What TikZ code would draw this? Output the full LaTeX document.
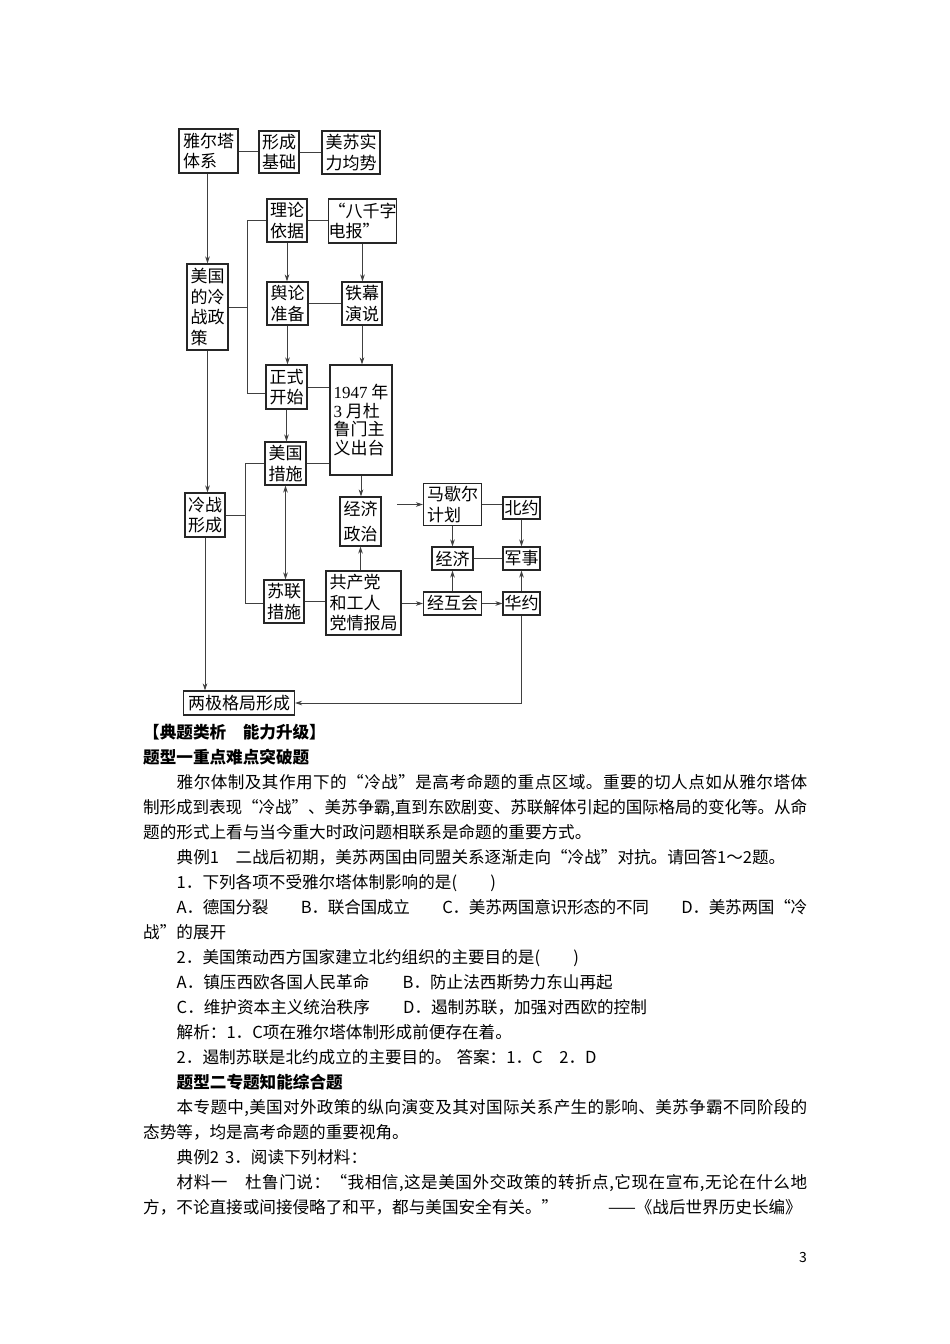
\documentclass[tikz,border=0pt]{standalone}
\usepackage{fontspec}
\setmainfont{Noto Sans CJK SC}
\newfontfamily\lat{Liberation Serif}
\usetikzlibrary{arrows.meta,calc}
\newcommand\dfont{\fontsize{17pt}{20.5pt}\selectfont}
\newcommand\bfont{\fontsize{16.6pt}{25pt}\selectfont}
\makeatletter
\def\jline#1#2{\hbox to #1{\jl@a#2\jl@end}}
\def\jl@a#1{#1\jl@b}
\def\jl@b#1{\ifx#1\jl@end\else\hskip 0pt plus 1fil minus 1pt #1\expandafter\jl@b\fi}
\makeatother
\tikzset{
  bx/.style={draw=black!85, line width=1.1pt, inner sep=0pt, align=left, font=\dfont},
  ln/.style={draw=black!75, line width=0.8pt},
  ar/.style={ln, -{Stealth[length=7pt,width=4.5pt]}},
  dar/.style={ln, {Stealth[length=7pt,width=4.5pt]}-{Stealth[length=7pt,width=4.5pt]}},
  body/.style={inner sep=0pt, anchor=base west, font=\bfont},
}
\begin{document}
\begin{tikzpicture}[x=1pt,y=-1pt]
\useasboundingbox[fill=white] (0,0) rectangle (950,1344);
% ---------- boxes ----------
\node[bx, minimum width=59pt, minimum height=44pt] (ya) at (208.5,151) {雅尔塔\\体系};
\node[bx, minimum width=40pt, minimum height=42pt] (xc) at (279,152) {形成\\基础};
\node[bx, minimum width=58pt, minimum height=43pt] (ms) at (351,152.5) {美苏实\\力均势};
\node[bx, minimum width=40pt, minimum height=43pt] (ll) at (287,220.5) {理论\\依据};
\node[bx, minimum width=67pt, minimum height=44pt] (bq) at (362.5,221) {“八千字\\电报”};
\node[bx, minimum width=41pt, minimum height=86pt] (mgp) at (207.5,307) {美国\\的冷\\战政\\策};
\node[bx, minimum width=41pt, minimum height=43pt] (yl) at (287.5,303.5) {舆论\\准备};
\node[bx, minimum width=40pt, minimum height=43pt] (tm) at (362,303.5) {铁幕\\演说};
\node[bx, minimum width=41pt, minimum height=44pt] (zs) at (286.5,387) {正式\\开始};
\node[bx, minimum width=62pt, minimum height=110pt, font=\fontsize{17pt}{18.5pt}\selectfont] (dl) at (361,420) {{\lat 1947} 年\\{\lat 3} 月杜\\鲁门主\\义出台};
\node[bx, minimum width=41pt, minimum height=43pt] (mc) at (285.5,463.5) {美国\\措施};
\node[bx, minimum width=40pt, minimum height=44pt] (lz) at (205,515) {冷战\\形成};
\node[bx, minimum width=41pt, minimum height=49pt, font=\fontsize{17pt}{25pt}\selectfont] (jz) at (360.5,521.5) {经济\\政治};
\node[bx, minimum width=58pt, minimum height=42pt] (mx) at (452.5,504.5) {马歇尔\\计划};
\node[bx, minimum width=37pt, minimum height=22pt] (by) at (521.5,508) {北约};
\node[bx, minimum width=41pt, minimum height=23pt] (jj) at (452.5,558.5) {经济};
\node[bx, minimum width=37pt, minimum height=23pt] (js) at (521.5,558.5) {军事};
\node[bx, minimum width=75pt, minimum height=64pt] (gc) at (363.5,603) {共产党\\和工人\\党情报局};
\node[bx, minimum width=40pt, minimum height=43pt] (sl) at (284,601.5) {苏联\\措施};
\node[bx, minimum width=58pt, minimum height=23pt] (jh) at (452.5,603.5) {经互会};
\node[bx, minimum width=37pt, minimum height=23pt] (hy) at (521.5,603.5) {华约};
\node[bx, minimum width=111pt, minimum height=24pt] (lj) at (239,703) {两极格局形成};
% ---------- helper coordinates ----------
\coordinate (b1a) at (247,220.5);
\coordinate (b1b) at (247,393);
\coordinate (b2a) at (245,463.5);
\coordinate (b2b) at (245,603);
\coordinate (jzr) at (397,504.5);
\coordinate (hc) at (521.5,703);
% ---------- connectors ----------
\draw[ln] (ya.east) -- (xc.west |- ya.east);
\draw[ln] (xc.east) -- (ms.west |- xc.east);
\draw[ar] (mgp.north |- ya.south) -- (mgp.north);
\draw[ln] (ll.west) -- (b1a) -- (b1b) -- (zs.west |- b1b);
\draw[ln] (mgp.east) -- (mgp.east -| b1a);
\draw[ln] (ll.east) -- (bq.west |- ll.east);
\draw[ar] (ll.south) -- (ll.south |- yl.north);
\draw[ar] (bq.south) -- (bq.south |- tm.north);
\draw[ln] (yl.east) -- (tm.west |- yl.east);
\draw[ar] (yl.south) -- (yl.south |- zs.north);
\draw[ar] (tm.south) -- (tm.south |- dl.north);
\draw[ln] (zs.east) -- (dl.west |- zs.east);
\draw[ar] (zs.south) -- (zs.south |- mc.north);
\draw[ar] (mgp.south) -- (mgp.south |- lz.north);
\draw[ln] (mc.west) -- (b2a) -- (b2b) -- (sl.west |- b2b);
\draw[ln] (lz.east) -- (lz.east -| b2a);
\draw[ln] (mc.east) -- (dl.west |- mc.east);
\draw[dar] (mc.south) -- (mc.south |- sl.north);
\draw[ar] (dl.south) -- (dl.south |- jz.north);
\draw[ar] (jzr) -- (mx.west |- jzr);
\draw[ln] (mx.east) -- (by.west |- mx.east);
\draw[ar] (mx.south) -- (mx.south |- jj.north);
\draw[ar] (by.south) -- (by.south |- js.north);
\draw[ln] (jj.east) -- (js.west |- jj.east);
\draw[ar] (jz.south |- gc.north) -- (jz.south);
\draw[ln] (sl.east) -- (gc.west |- sl.east);
\draw[ar] (gc.east |- jh.west) -- (jh.west);
\draw[ar] (jh.east) -- (hy.west);
\draw[ar] (jh.north) -- (jh.north |- jj.south);
\draw[ar] (hy.north) -- (hy.north |- js.south);
\draw[ar] (hy.south) -- (hc) -- (lj.east);
\draw[ar] (lz.south) -- (lz.south |- lj.north);
% ---------- body text ----------
\node[body] (t1) at (143,738) {\bfseries 【典题类析　能力升级】};
\node[body] (t2) at (143,763) {\bfseries 题型一重点难点突破题};
\node[body] (t3) at (176.5,788) {\jline{630.5pt}{雅尔体制及其作用下的“冷战”是高考命题的重点区域。重要的切人点如从雅尔塔体}};
\node[body] (t4) at (143,813) {\jline{664pt}{制形成到表现“冷战”、美苏争霸,直到东欧剧变、苏联解体引起的国际格局的变化等。从命}};
\node[body] (t5) at (143,838) {题的形式上看与当今重大时政问题相联系是命题的重要方式。};
\node[body] (t6) at (176.5,863) {典例1　二战后初期，美苏两国由同盟关系逐渐走向“冷战”对抗。请回答1～2题。};
\node[body] (t7) at (176.5,888) {1．下列各项不受雅尔塔体制影响的是(　　)};
\node[body] (t8) at (176.5,913) {\jline{630.5pt}{A．德国分裂　　B．联合国成立　　C．美苏两国意识形态的不同　　D．美苏两国“冷}};
\node[body] (t9) at (143,938) {战”的展开};
\node[body] (t10) at (176.5,963) {2．美国策动西方国家建立北约组织的主要目的是(　　)};
\node[body] (t11) at (176.5,988) {A．镇压西欧各国人民革命　　B．防止法西斯势力东山再起};
\node[body] (t12) at (176.5,1013) {C．维护资本主义统治秩序　　D．遏制苏联，加强对西欧的控制};
\node[body] (t13) at (176.5,1038) {解析：1．C项在雅尔塔体制形成前便存在着。};
\node[body] (t14) at (176.5,1063) {2．遏制苏联是北约成立的主要目的。\hspace{5pt}答案：1．C　2．D};
\node[body] (t15) at (176.5,1088) {\bfseries 题型二专题知能综合题};
\node[body] (t16) at (176.5,1113) {\jline{630.5pt}{本专题中,美国对外政策的纵向演变及其对国际关系产生的影响、美苏争霸不同阶段的}};
\node[body] (t17) at (143,1138) {态势等，均是高考命题的重要视角。};
\node[body] (t18) at (176.5,1163) {典例2\hspace{6pt}3．阅读下列材料：};
\node[body] (t19) at (176.5,1188) {\jline{630.5pt}{材料一　杜鲁门说：“我相信,这是美国外交政策的转折点,它现在宣布,无论在什么地}};
\node[body] (t20) at (143,1213) {方，不论直接或间接侵略了和平，都与美国安全有关。”　　　——《战后世界历史长编》};
\node[inner sep=0pt, font=\fontsize{14pt}{16pt}\selectfont] (pg) at (803,1257) {3};
\end{tikzpicture}
\end{document}
